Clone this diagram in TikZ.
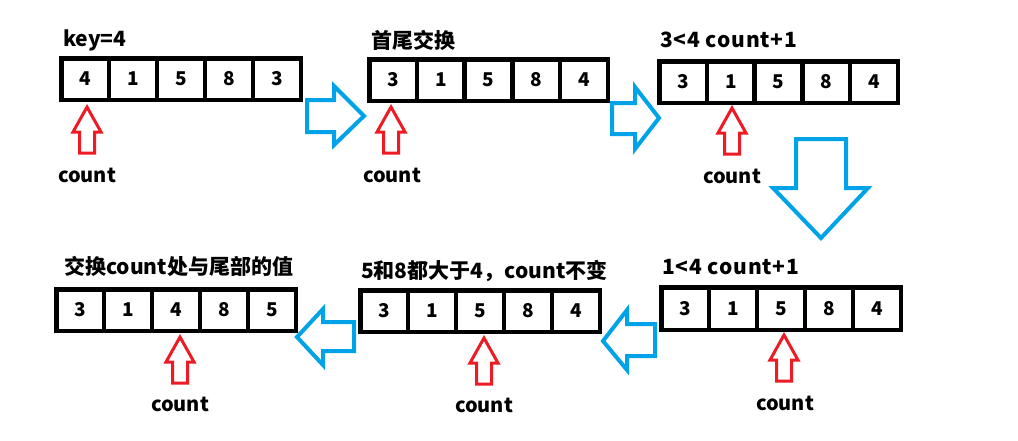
\documentclass[tikz,border=0pt]{standalone}
\usepackage{fontspec}
\setmainfont{Noto Sans CJK SC}
\definecolor{arrblue}{HTML}{00A2E8}
\definecolor{arrred}{HTML}{ED1C24}
\tikzset{
  cell/.style={draw, line width=4.5pt, inner sep=0pt, outer sep=0pt, font=\bfseries\fontsize{19}{19}\selectfont},
  lbl/.style={anchor=base west, inner sep=0pt, font=\bfseries\fontsize{21}{21}\selectfont},
  lblwide/.style={lbl, font=\bfseries\fontsize{21}{21}\selectfont\addfontfeature{LetterSpace=4}},
  cnt/.style={inner sep=0pt, font=\bfseries\fontsize{20}{20}\selectfont},
  bluearrow/.style={draw=arrblue, line width=4pt, line join=miter},
  redarrow/.style={draw=arrred, line width=3pt, line join=miter},
  pics/uparrow/.style={code={
    \draw[redarrow] (0,0) -- (14,25) -- (7.5,25) -- (7.5,46) -- (-7.5,46) -- (-7.5,25) -- (-14,25) -- cycle;
  }}
}
\newcommand\drawarr[6]{%
  \pgfmathsetmacro\pitch{(#4-#2-4.5)/5}%
  \pgfmathsetmacro\hh{#5-#3-4.5}%
  \foreach \v [count=\i] in {#6} {
    \node[cell, minimum width=\pitch pt, minimum height=\hh pt] (#1\i) at ({#2+2.25+(\i-0.5)*\pitch}, {(#3+#5)/2}) {\v};
  }}
\begin{document}
\begin{tikzpicture}[x=1pt,y=-1pt]
\useasboundingbox[fill=white] (0,0) rectangle (1018,440);
% arrays
\drawarr{a}{59}{56}{303}{102}{4,1,5,8,3}
\drawarr{b}{367}{57}{610}{103}{3,1,5,8,4}
\drawarr{c}{657}{59}{900}{105}{3,1,5,8,4}
\drawarr{d}{659}{285}{903}{332}{3,1,5,8,4}
\drawarr{e}{358}{288}{602}{334}{3,1,5,8,4}
\drawarr{f}{54}{287}{298}{333}{3,1,4,8,5}
% labels
\node[lbl] (la) at (63,46) {key=4};
\node[lbl] (lb) at (371,48) {首尾交换};
\node[lblwide] (lc) at (660,47) {3<4 count+1};
\node[lblwide] (ld) at (662,274) {1<4 count+1};
\node[lbl] (le) at (361,278) {5和8都大于4，count不变};
\node[lbl] (lf) at (64,274) {交换count处与尾部的值};
% red pointer arrows
\pic at (87,107) {uparrow};
\pic at (391,107) {uparrow};
\pic at (732,108) {uparrow};
\pic at (784,335) {uparrow};
\pic at (484,338) {uparrow};
\pic at (180,337) {uparrow};
% count labels
\node[cnt] (ca) at (87,175) {count};
\node[cnt] (cb) at (392,175) {count};
\node[cnt] (cc) at (732,176) {count};
\node[cnt] (cd) at (785,403) {count};
\node[cnt] (ce) at (484,405) {count};
\node[cnt] (cf) at (180,404) {count};
% blue block arrows
\draw[bluearrow] (307,100) -- (334,100) -- (334,86) -- (364,116) -- (334,145) -- (334,132) -- (307,132) -- cycle;
\draw[bluearrow] (612,103) -- (635,103) -- (635,87) -- (659,118) -- (635,149) -- (635,134) -- (612,134) -- cycle;
\draw[bluearrow] (796,139) -- (846,139) -- (846,188) -- (868,188) -- (821,238) -- (773,188) -- (796,188) -- cycle;
\draw[bluearrow] (655,324) -- (627,324) -- (627,310) -- (603,341) -- (627,370) -- (627,356) -- (655,356) -- cycle;
\draw[bluearrow] (354,322) -- (323,322) -- (323,309) -- (297,337) -- (323,365) -- (323,351) -- (354,351) -- cycle;
\end{tikzpicture}
\end{document}
